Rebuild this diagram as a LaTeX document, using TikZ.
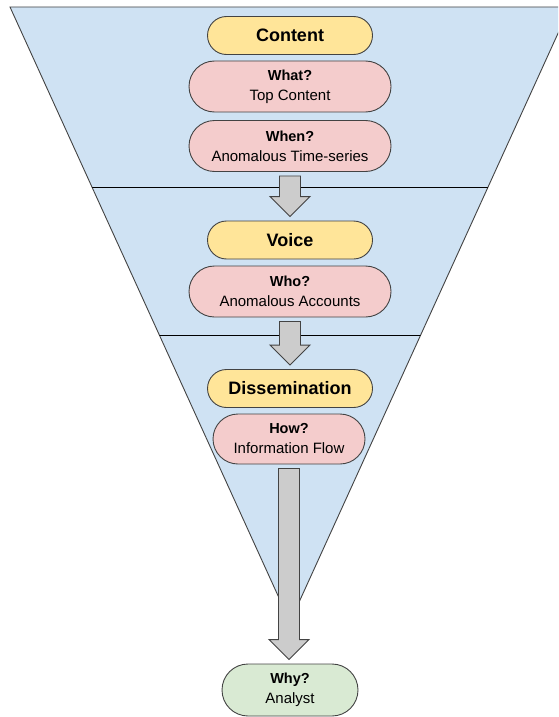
\documentclass[tikz,border=0pt]{standalone}
\usepackage{fontspec}
\setmainfont{Liberation Sans}
\usepackage{tikz}
\usetikzlibrary{calc,shapes.misc}

\definecolor{funnelblue}{HTML}{CFE2F3}
\definecolor{stageyellow}{HTML}{FFE599}
\definecolor{askpink}{HTML}{F4CCCC}
\definecolor{endgreen}{HTML}{D9EAD3}
\definecolor{arrowgray}{HTML}{CCCCCC}
\definecolor{edgegray}{HTML}{434343}

\tikzset{
  pill/.style={rounded rectangle,draw=edgegray,line width=0.9pt,inner sep=0pt,align=center},
  stage/.style={pill,fill=stageyellow,minimum width=165pt,minimum height=38pt,font=\fontsize{18}{20}\selectfont\bfseries},
  ask/.style={pill,fill=askpink,minimum width=202pt,minimum height=51pt,font=\fontsize{15}{20}\selectfont},
  arrowbox/.style={draw=edgegray,line width=0.9pt,fill=arrowgray,line join=miter}
}

\newcommand{\flowarrow}[2]{%
\draw[arrowbox] let \p1=($(#1.south)+(0,4)$), \p2=($(#2.north)+(0,-4)$) in
  (\x1-10.5pt,\y1) -- (\x1+10.5pt,\y1) -- (\x1+10.5pt,\y2+20pt) -- (\x1+20pt,\y2+20pt)
  -- (\x1,\y2) -- (\x1-20pt,\y2+20pt) -- (\x1-10.5pt,\y2+20pt) -- cycle;}

\begin{document}
\begin{tikzpicture}[x=1pt,y=-1pt]
\useasboundingbox (0,0) rectangle (558,717);

\begin{scope}
\clip (0,0) rectangle (558,717);
\draw[fill=funnelblue,draw=edgegray,line width=0.9pt] (10,7) -- (570,7) -- (290,622) -- cycle;
\clip (10,7) -- (570,7) -- (290,622) -- cycle;
\draw[line width=0.9pt] (0,187) -- (558,187);
\draw[line width=0.9pt] (0,335) -- (558,335);
\end{scope}

\node[stage] (content) at (290,35.5) {Content};
\node[ask] (what) at (290,86.5) {{\fontsize{14.5}{20}\selectfont\bfseries What?}\\Top Content};
\node[ask] (when) at (290,146) {{\fontsize{14.5}{20}\selectfont\bfseries When?}\\Anomalous Time-series};

\node[stage] (voice) at (290,240) {Voice};
\node[ask] (who) at (290,291.5) {{\fontsize{14.5}{20}\selectfont\bfseries Who?}\\Anomalous Accounts};

\node[stage] (dissem) at (290,388.5) {Dissemination};
\node[ask,minimum width=152pt,minimum height=50pt] (how) at (289,439) {{\fontsize{14.5}{20}\selectfont\bfseries How?}\\Information Flow};

\node[ask,fill=endgreen,minimum width=136pt,minimum height=52pt] (why) at (290,690) {{\fontsize{14.5}{20}\selectfont\bfseries Why?}\\Analyst};

\flowarrow{when}{voice}
\flowarrow{who}{dissem}
\flowarrow{how}{why}
\end{tikzpicture}
\end{document}
